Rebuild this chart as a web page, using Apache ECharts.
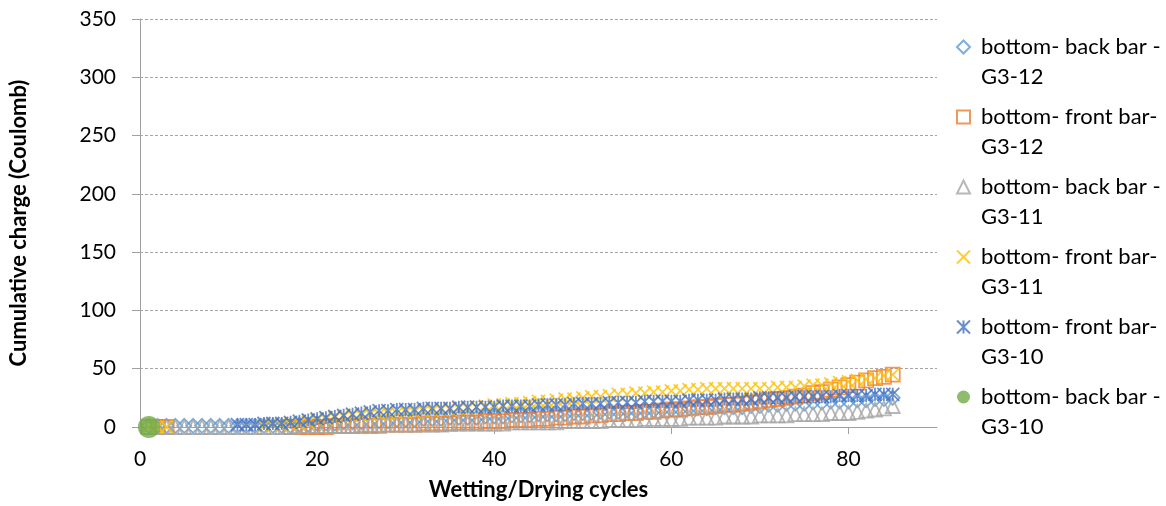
<!DOCTYPE html>
<html>
<head>
<meta charset="utf-8">
<script src="https://cdn.jsdelivr.net/npm/echarts@6/dist/echarts.min.js"></script>
<style>
html,body{margin:0;padding:0;background:#fff;}
#chart{width:1166px;height:506px;}
</style>
</head>
<body>
<div id="chart"></div>
<script>
var cycles = [1,2,3,4,5,6,7,8,9,10,11,12,13,14,15,16,17,18,19,20,21,22,23,24,25,26,27,28,29,30,31,32,33,34,35,36,37,38,39,40,41,42,43,44,45,46,47,48,49,50,51,52,53,54,55,56,57,58,59,60,61,62,63,64,65,66,67,68,69,70,71,72,73,74,75,76,77,78,79,80,81,82,83,84,85];

var seriesNames = [
  'bottom- back bar - G3-12',
  'bottom- front bar- G3-12',
  'bottom- back bar - G3-11',
  'bottom- front bar- G3-11',
  'bottom- front bar- G3-10',
  'bottom- back bar - G3-10'
];

var backG312 = [1,1,1,1,1,1,1,1,1,1,1,1,1,1,1,1,1,
  2,2,3,3,3,4,4,4,5,5,5,6,6,
  6,7,7,7,8,8,8,8,9,9,
  9,10,10,10,11,11,11,11,12,12,
  12,13,13,13,14,14,14,14,15,15,
  15,16,16,16,17,17,17,17,18,18,
  19,19,20,20,20,21,21,22,22,22,
  23,23,24,24,25];

var frontG312 = [0,0,0,null,null,null,null,null,null,null,null,null,null,null,null,null,
  0,0,0,0,0,1,1,1,1,1,1,2,2,2,
  2,3,3,3,3,4,4,4,5,5,
  5,6,6,6,7,7,8,8,9,9,
  10,10,11,11,12,12,13,13,14,15,
  15,16,17,17,18,19,19,20,21,22,
  23,24,25,26,27,29,30,32,34,36,
  38,40,42,43,45];

var backG311 = [0,0,0,0,0,0,0,0,0,0,0,0,0,0,0,0,0,
  1,1,1,1,1,1,1,2,2,2,2,2,2,
  2,2,2,2,3,3,3,3,3,3,
  3,4,4,4,4,4,4,5,5,5,
  5,5,6,6,6,6,7,7,7,7,
  7,8,8,8,8,9,9,9,9,10,
  10,10,10,11,11,11,11,12,12,12,
  13,14,15,16,18];

var frontG311 = [0,0,0,null,null,null,null,null,null,null,null,null,null,
  1,2,2,3,3,4,6,7,8,9,10,10,11,11,12,12,13,
  13,14,14,15,15,16,16,17,18,19,
  19,20,20,21,22,22,23,24,24,25,
  26,26,27,28,28,29,29,30,30,31,
  31,32,32,33,33,33,33,33,33,33,
  33,34,34,34,35,36,36,37,38,39,
  40,41,42,44,45];

var frontG310 = [null,null,null,null,null,null,null,null,null,null,
  2,2,2,3,3,3,4,5,6,7,
  8,9,10,11,12,13,14,14,15,15,
  15,16,16,16,16,17,17,17,17,17,
  18,18,18,18,19,19,19,19,20,20,
  20,20,21,21,21,21,22,22,22,22,
  22,23,23,23,23,24,24,24,24,25,
  25,25,25,26,26,26,26,26,27,27,
  27,27,28,28,28];

var backG310 = [0];

var xTicks = [0,20,40,60,80];
var yTicks = [0,50,100,150,200,250,300,350];

var colors = ['#5B9BD5','#ED7D31','#A5A5A5','#FFC000','#4472C4','#70AD47'];
var symbols = ['diamond','rect','triangle',
  'path://M0,0L10,10M10,0L0,10',
  'path://M0,0L10,10M10,0L0,10M5,0L5,10',
  'circle'];
var sizes = [14,14,14,13,13,22];
var values = [backG312, frontG312, backG311, frontG311, frontG310, backG310];

function pairs(vals){
  var out = [];
  for (var i = 0; i < vals.length; i++) {
    if (vals[i] !== null && vals[i] !== undefined) out.push([cycles[i], vals[i]]);
  }
  return out;
}

var series = [];
for (var k = 0; k < values.length; k++) {
  var filled = (k === 5);
  series.push({
    name: seriesNames[k],
    type: 'scatter',
    symbol: symbols[k],
    symbolSize: sizes[k],
    data: pairs(values[k]),
    itemStyle: filled ? {color: colors[k]} : {color: 'rgba(0,0,0,0)', borderColor: colors[k], borderWidth: 1.8},
    emphasis: {disabled: true},
    z: 2 + k
  });
}

var chart = echarts.init(document.getElementById('chart'), null, {renderer: 'canvas'});
chart.setOption({
  animation: false,
  backgroundColor: '#ffffff',
  textStyle: {fontFamily: 'Lato'},
  grid: {left: 140, right: 229, top: 19, bottom: 76, containLabel: false},
  xAxis: {
    type: 'value', min: 0, max: 90, interval: 20,
    name: 'Wetting/Drying cycles', nameLocation: 'middle', nameGap: 52,
    nameTextStyle: {fontFamily: 'Lato', fontSize: 22, fontWeight: 'bold', color: '#000'},
    axisLine: {show: true, lineStyle: {color: '#a0a0a0', width: 1}},
    axisTick: {show: true, length: 7, lineStyle: {color: '#a0a0a0'}},
    axisLabel: {fontFamily: 'Lato', fontSize: 21, color: '#000', margin: 22, showMaxLabel: false,
      formatter: function(v){ return xTicks.indexOf(v) >= 0 ? String(v) : ''; }},
    splitLine: {show: false}
  },
  yAxis: {
    type: 'value', min: 0, max: 350, interval: 50,
    name: 'Cumulative charge (Coulomb)', nameLocation: 'middle', nameGap: 110,
    nameTextStyle: {fontFamily: 'Lato', fontSize: 22, fontWeight: 'bold', color: '#000'},
    axisLine: {show: true, lineStyle: {color: '#a0a0a0', width: 1}},
    axisTick: {show: true, length: 8, lineStyle: {color: '#a0a0a0'}},
    axisLabel: {fontFamily: 'Lato', fontSize: 21, color: '#000', margin: 24,
      formatter: function(v){ return yTicks.indexOf(v) >= 0 ? String(v) : ''; }},
    splitLine: {show: true, lineStyle: {color: '#a6a6a6', type: [3,2], width: 1}}
  },
  legend: {
    orient: 'vertical',
    left: 956, top: 2,
    padding: 0,
    itemWidth: 13, itemHeight: 13,
    itemGap: -20,
    data: seriesNames,
    formatter: function(n){ return '\n' + n.replace(' G3', '\nG3'); },
    textStyle: {fontFamily: 'Lato', fontSize: 22, color: '#000', lineHeight: 30, padding: [0,0,0,6]}
  },
  series: series
});
</script>
</body>
</html>
